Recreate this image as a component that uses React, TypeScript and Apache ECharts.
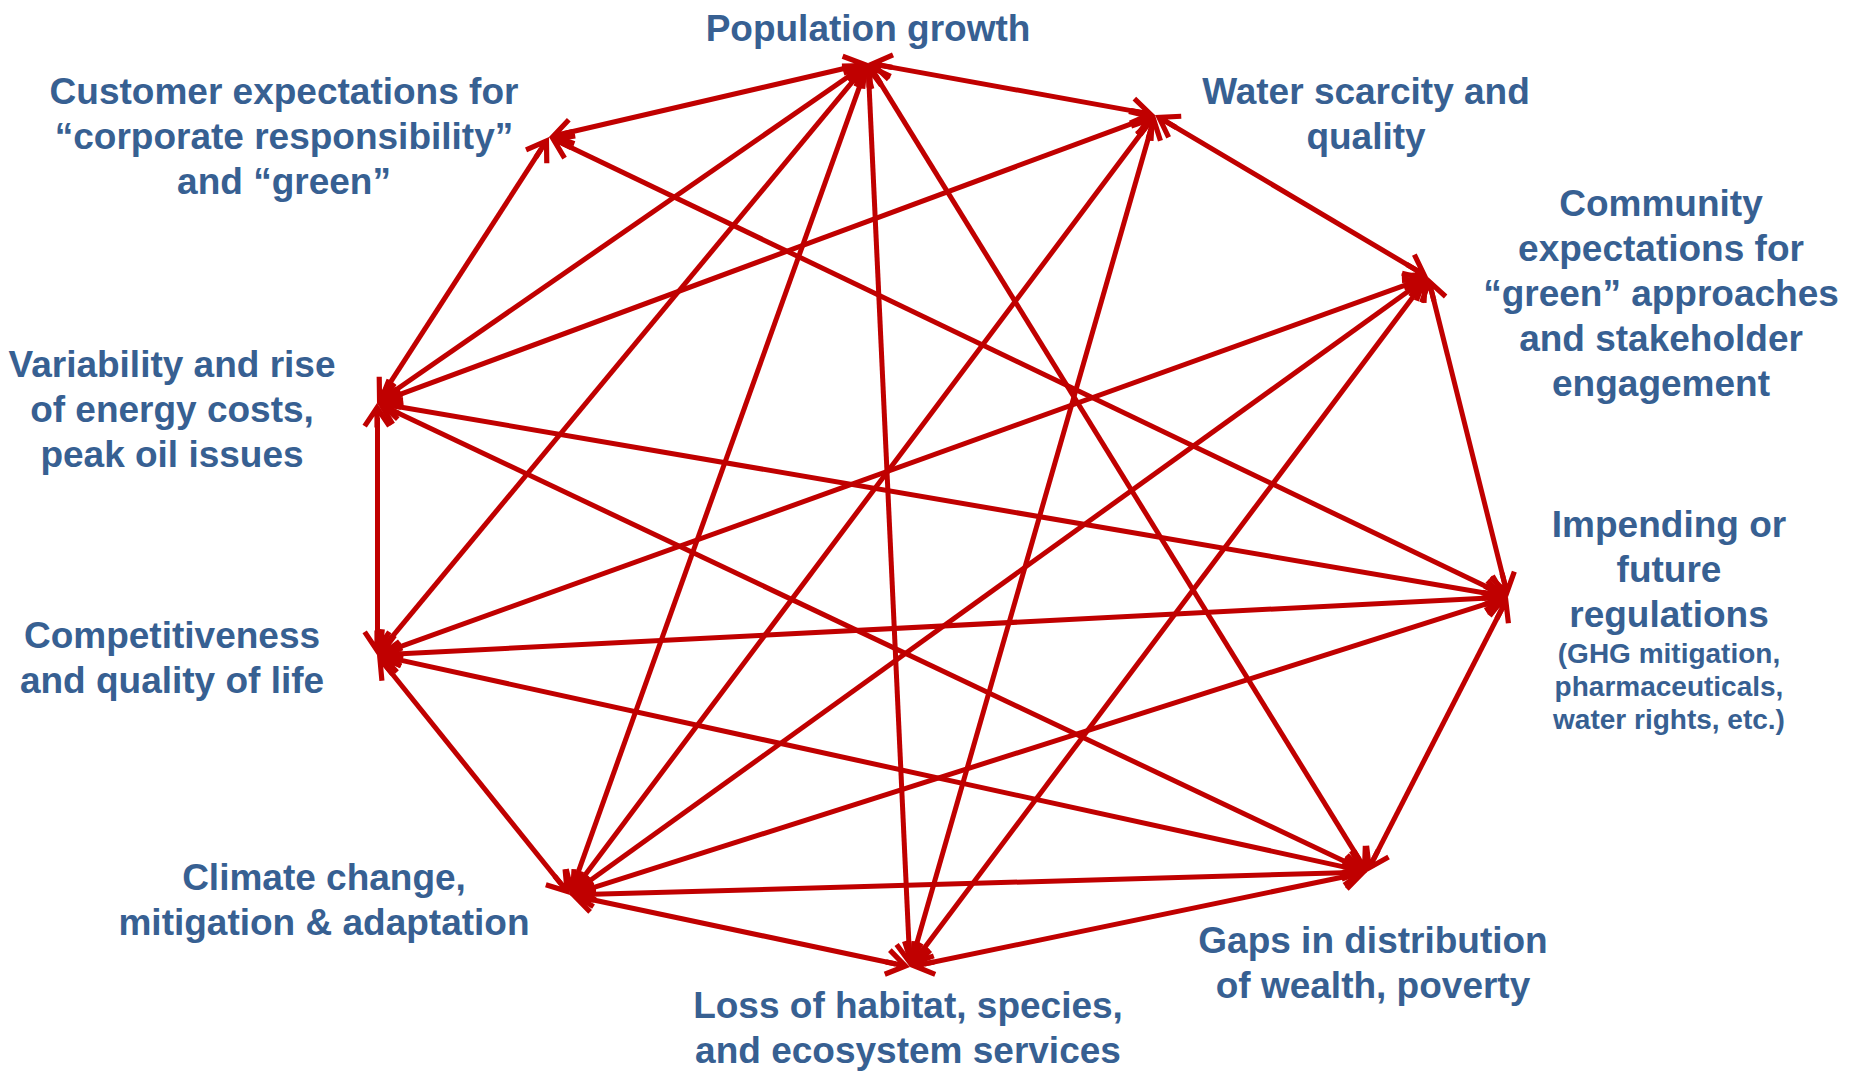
import React, { useEffect, useRef } from "react";
import * as echarts from "echarts";

// Nodes (order: 0 Population, 1 Water, 2 Community, 3 Regulations, 4 Gaps,
// 5 Loss, 6 Climate, 7 Competitiveness, 8 Variability, 9 Customer)
const nodeNames = [
  "Population growth",
  "Water scarcity and quality",
  "Community expectations",
  "Impending or future regulations",
  "Gaps in distribution of wealth, poverty",
  "Loss of habitat, species, and ecosystem services",
  "Climate change, mitigation & adaptation",
  "Competitiveness and quality of life",
  "Variability and rise of energy costs, peak oil issues",
  "Customer expectations",
];
const nodeX = [868, 1155, 1428, 1508, 1367, 910, 570, 377, 377, 549];
const nodeY = [63, 115, 277, 597, 872, 967, 895, 655, 403, 137];

const nodeLabels = [
  "{b|Population growth}",
  "{b|Water scarcity and}\n{b|quality}",
  "{b|Community}\n{b|expectations for}\n{b|“green” approaches}\n{b|and stakeholder}\n{b|engagement}",
  "{b|Impending or}\n{b|future}\n{b|regulations}\n{s|(GHG mitigation,}\n{s|pharmaceuticals,}\n{s|water rights, etc.)}",
  "{b|Gaps in distribution}\n{b|of wealth, poverty}",
  "{b|Loss of habitat, species,}\n{b|and ecosystem services}",
  "{b|Climate change,}\n{b|mitigation & adaptation}",
  "{b|Competitiveness}\n{b|and quality of life}",
  "{b|Variability and rise}\n{b|of energy costs,}\n{b|peak oil issues}",
  "{b|Customer expectations for}\n{b|“corporate responsibility”}\n{b|and “green”}",
];
const labelDX = [0, 211, 233, 161, 6, -2, -246, -205, -205, -265];
const labelDY = [-35, -1, 16, 22, 91, 61, 5, 3, 6, -1];

// Links (all double-headed)
const links: [number, number][] = [
  [0, 1], [1, 2], [2, 3], [3, 4], [4, 5], [5, 6], [6, 7], [7, 8], [8, 9], [9, 0],
  [0, 8], [0, 7], [0, 6], [0, 5], [0, 4],
  [1, 8], [1, 6], [1, 5],
  [2, 7], [2, 6], [2, 5],
  [3, 9], [3, 8], [3, 7], [3, 6],
  [4, 8], [4, 7], [4, 6],
];

const ARROW =
  "path://M14 0 L0 21 L4.16 23.77 L11.5 12.76 L11.5 23.77 L16.5 23.77 L16.5 12.76 L23.84 23.77 L28 21 Z M0 28 L0.01 28 Z";

const TEXT_COLOR = "#376092";
const FONT = "'Liberation Sans', Arial, sans-serif";

export default function App() {
  const ref = useRef<HTMLDivElement>(null);
  useEffect(() => {
    if (!ref.current) return;
    const chart = echarts.init(ref.current, undefined, { renderer: "svg" });
    const data = nodeNames.map((name, i) => ({
      name,
      value: [nodeX[i], nodeY[i]],
      label: { formatter: nodeLabels[i], offset: [labelDX[i], labelDY[i]] },
    }));
    chart.setOption({
      animation: false,
      backgroundColor: "#ffffff",
      grid: { left: 0, right: 0, top: 0, bottom: 0 },
      xAxis: { type: "value", min: 0, max: 1855, show: false },
      yAxis: { type: "value", min: 0, max: 1074, inverse: true, show: false },
      series: [
        {
          type: "graph",
          coordinateSystem: "cartesian2d",
          layout: "none",
          silent: true,
          symbol: "circle",
          symbolSize: 29,
          itemStyle: { color: "rgba(0,0,0,0)" },
          edgeSymbol: [ARROW, ARROW],
          edgeSymbolSize: 29,
          lineStyle: { color: "#C00000", width: 5, opacity: 1, curveness: 0 },
          emphasis: { disabled: true },
          label: {
            show: true,
            position: "inside",
            align: "center",
            verticalAlign: "middle",
            color: TEXT_COLOR,
            fontFamily: FONT,
            fontWeight: "bold",
            rich: {
              b: {
                fontSize: 37,
                lineHeight: 45,
                fontWeight: "bold",
                fontFamily: FONT,
                color: TEXT_COLOR,
                align: "center",
              },
              s: {
                fontSize: 28,
                lineHeight: 33,
                fontWeight: "bold",
                fontFamily: FONT,
                color: TEXT_COLOR,
                align: "center",
              },
            },
          },
          data,
          links: links.map(([s, t]) => ({ source: s, target: t })),
        },
      ],
    });
    return () => chart.dispose();
  }, []);
  return (
    <div
      ref={ref}
      style={{ position: "absolute", left: 0, top: 0, width: 1855, height: 1074 }}
    />
  );
}
